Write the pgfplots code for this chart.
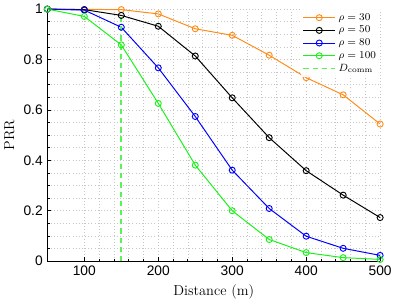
\documentclass[border=0pt]{standalone}
\usepackage{fontspec}
\newfontfamily\ticksf{Liberation Sans}
\usepackage{pgfplots}
\pgfplotsset{compat=1.18}
\definecolor{myorange}{rgb}{1,0.55,0.1}
\definecolor{mygreen}{rgb}{0.1,0.95,0.1}
\definecolor{mydash}{rgb}{0.35,0.95,0.35}
\begin{document}
\begin{tikzpicture}
\begin{axis}[
  scale only axis,
  width=253.5pt, height=192pt,
  xmin=50, xmax=500, ymin=0, ymax=1,
  xtick={100,200,300,400,500},
  ytick={0,0.2,0.4,0.6,0.8,1},
  minor x tick num=4,
  minor y tick num=3,
  axis lines*=left,
  tick align=inside,
  major tick length=3pt,
  minor tick length=1.8pt,
  grid=both,
  major grid style={dotted, gray!45, line width=0.5pt},
  minor grid style={dotted, gray!45, line width=0.5pt},
  tick style={black, line width=0.6pt},
  axis line style={line width=0.8pt},
  tick label style={font=\ticksf\fontsize{10.5}{12}\selectfont},
  /pgf/number format/assume math mode=true,
  xlabel={Distance (m)},
  ylabel={PRR},
  label style={font=\fontsize{11}{13}\selectfont},
  clip=false,
  legend style={at={(1,1)}, anchor=north east, draw=none, fill=white, fill opacity=0.9, text opacity=1,
    font=\fontsize{8.5}{10}\selectfont, inner sep=1pt, row sep=-1pt},
  legend cell align=left,
  legend image code/.code={
    \draw[#1] (0cm,0cm) -- (0.85cm,0cm);
    \draw[#1, only marks] plot coordinates {(0.425cm,0cm)};
  },
  every axis plot/.append style={line width=0.75pt, mark=o, mark size=2.3pt, mark options={solid, line width=0.7pt}},
]
\addplot[color=myorange] coordinates {
(50,1)(100,0.999)(150,0.998)(200,0.981)(250,0.922)(300,0.896)(350,0.817)(400,0.728)(450,0.660)(500,0.544)};
\addlegendentry{$\rho = 30$}
\addplot[color=black] coordinates {
(50,1)(100,0.998)(150,0.975)(200,0.932)(250,0.814)(300,0.648)(350,0.490)(400,0.359)(450,0.262)(500,0.173)};
\addlegendentry{$\rho = 50$}
\addplot[color=blue] coordinates {
(50,1)(100,0.996)(150,0.928)(200,0.767)(250,0.574)(300,0.361)(350,0.209)(400,0.099)(450,0.051)(500,0.023)};
\addlegendentry{$\rho = 80$}
\addplot[color=mygreen] coordinates {
(50,1)(100,0.971)(150,0.858)(200,0.626)(250,0.381)(300,0.200)(350,0.086)(400,0.034)(450,0.014)(500,0.007)};
\addlegendentry{$\rho = 100$}
\addplot[color=mydash, line width=1.3pt, mark=none, dash pattern=on 4pt off 3pt] coordinates {(150,0)(150,0.975)};
\addlegendentry{$D_{\rm comm}$}
\end{axis}
\end{tikzpicture}
\end{document}
